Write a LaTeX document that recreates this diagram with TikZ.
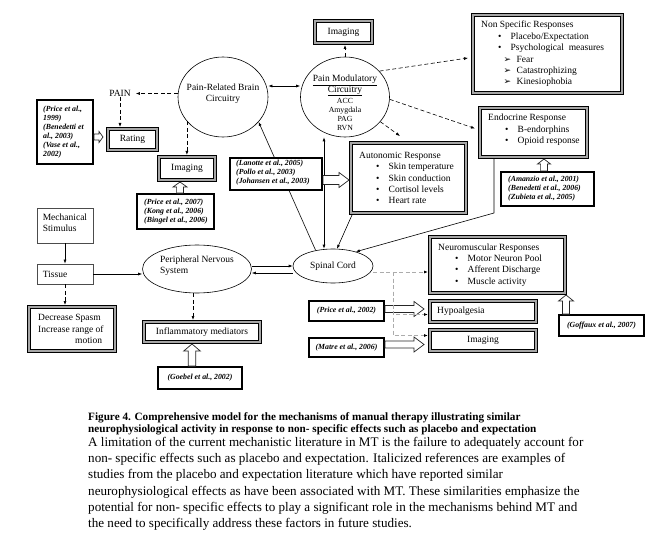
\documentclass[tikz,border=0pt]{standalone}
\usepackage{fontspec}
\setmainfont{Liberation Serif}
\newfontfamily\symfont{DejaVu Sans}
\usetikzlibrary{shapes.geometric,arrows.meta,calc,backgrounds}
\newcommand\bul[1]{\makebox[17pt][l]{}\makebox[12.5pt][l]{\textbullet}#1}
\newcommand\arrit[1]{\makebox[22.5pt][l]{}\makebox[13pt][l]{\symfont\fontsize{9}{9}\selectfont ➢}#1}
\newcommand\hollowarr[5]{%
  \coordinate (ha-s) at #1; \coordinate (ha-e) at #2;
  \coordinate (ha-h) at ($(ha-e)!#5!(ha-s)$);
  \draw[hollow] ($(ha-s)!#3!90:(ha-e)$) -- ($(ha-h)!#3!90:(ha-e)$) -- ($(ha-h)!#4!90:(ha-e)$) -- (ha-e) -- ($(ha-h)!#4!-90:(ha-e)$) -- ($(ha-h)!#3!-90:(ha-e)$) -- ($(ha-s)!#3!-90:(ha-e)$) -- cycle;}
\begin{document}
\begin{tikzpicture}[x=1pt,y=-1pt,
  every node/.style={font=\fontsize{9.5}{11.4}\selectfont, inner sep=0pt},
  triple/.style={draw=black, line width=1.1pt, double=gray!70, double distance=1.9pt, fill=white, outer sep=2pt},
  ref/.style={draw, line width=2.2pt, fill=white, font=\fontsize{7.8}{9.1}\selectfont\bfseries\itshape},
  reft/.style={anchor=west, align=left, font=\fontsize{7.8}{9.1}\selectfont\bfseries\itshape},
  plainbox/.style={draw=black!70, line width=0.8pt, fill=white},
  ell/.style={ellipse, draw, line width=0.6pt, fill=white},
  con/.style={line width=0.6pt, -{Latex[length=4pt,width=3pt]}},
  dcon/.style={con, dash pattern=on 4pt off 2.5pt},
  gcon/.style={draw=gray!65, line width=1pt, dash pattern=on 4pt off 2.5pt, -{Latex[length=4pt,width=3pt,color=black]}},
  hollow/.style={draw=black!85, line width=0.7pt, fill=white, line join=miter},
  captb/.style={anchor=base west, font=\fontsize{11.2}{12}\selectfont\bfseries},
  capt/.style={anchor=base west, font=\fontsize{13.1}{16}\selectfont}]
\begin{scope}[on background layer]
\fill[white] (0,0) rectangle (671,540);
\end{scope}
\useasboundingbox (0,0) rectangle (671,540);

% ellipses
\node[ell, minimum width=90pt, minimum height=80pt, align=center] (brain) at (223,97) {};
\node[align=center] (brain-t) at (223,93.5) {Pain-Related Brain\\Circuitry};
\node[ell, minimum width=89pt, minimum height=80pt] (modul) at (345,97) {};
\node[align=center] (modul-t) at (345,85.5) {\underline{Pain Modulatory}\\[-0.5pt]\underline{Circuitry}};
\node[align=center, font=\fontsize{7.8}{9}\selectfont] (modul-s) at (345,114.5) {ACC\\Amygdala\\PAG\\RVN};
\node[ell, minimum width=109pt, minimum height=48pt] (pns) at (197,269) {};
\node[align=left] (pns-t) at (197,265.5) {Peripheral Nervous\\System};
\node[ell, minimum width=80pt, minimum height=34pt] (spinal) at (333,266) {Spinal Cord};

\node (PAIN) at (120,93.5) {PAIN};

% triple boxes
\node[triple, minimum width=57pt, minimum height=22pt] (imgtop) at (343.5,32) {Imaging};
\node[triple, minimum width=149pt, minimum height=78pt] (nonspec) at (547.5,54) {};
\node[anchor=west, align=left] (nonspec-t) at ($(nonspec.west)+(10pt,0)$) {Non Specific Responses\\\bul{Placebo/Expectation}\\\bul{Psychological\ \ measures}\\\arrit{Fear}\\\arrit{Catastrophizing}\\\arrit{Kinesiophobia}};
\node[triple, minimum width=107pt, minimum height=49pt] (endo) at (533.5,132.5) {};
\node[anchor=west, align=left] (endo-t) at ($(endo.west)+(10pt,2.5pt)$) {Endocrine Response\\\bul{B-endorphins}\\\bul{Opioid response}};
\node[triple, minimum width=115pt, minimum height=70pt] (auto) at (408.5,178) {};
\node[anchor=west, align=left] (auto-t) at ($(auto.west)+(10pt,0)$) {Autonomic Response\\\bul{Skin temperature}\\\bul{Skin conduction}\\\bul{Cortisol levels}\\\bul{Heart rate}};
\node[triple, minimum width=49pt, minimum height=21pt] (rating) at (132.5,139.5) {Rating};
\node[triple, minimum width=56pt, minimum height=23pt] (imgleft) at (187,168.5) {Imaging};
\node[triple, minimum width=86pt, minimum height=44pt] (decrease) at (72,329) {};
\node[anchor=west, align=left] (decrease-t) at ($(decrease.west)+(11pt,0)$) {Decrease Spasm\\Increase range of\\\hspace*{37pt}motion};
\node[triple, minimum width=116pt, minimum height=20pt] (inflam) at (202,332) {Inflammatory mediators};
\node[triple, minimum width=135pt, minimum height=56pt] (neuro) at (497.5,265) {};
\node[anchor=west, align=left] (neuro-t) at ($(neuro.west)+(10pt,0)$) {Neuromuscular Responses\\\bul{Motor Neuron Pool}\\\bul{Afferent Discharge}\\\bul{Muscle activity}};
\node[triple, minimum width=106pt, minimum height=21pt] (hypo) at (483,311.5) {};
\node[anchor=west] (hypo-t) at ($(hypo.west)+(9pt,0)$) {Hypoalgesia};
\node[triple, minimum width=106pt, minimum height=21pt] (imglow) at (483,340.5) {Imaging};

% plain boxes
\node[plainbox, minimum width=56pt, minimum height=35pt] (mech) at (65,225.5) {};
\node[anchor=west, align=left] (mech-t) at ($(mech.west)+(6pt,3pt)$) {Mechanical\\Stimulus};
\node[plainbox, minimum width=56pt, minimum height=20pt] (tissue) at (65,274) {};
\node[anchor=west] (tissue-t) at ($(tissue.west)+(6pt,0)$) {Tissue};

% reference boxes
\node[ref, minimum width=55.8pt, minimum height=63.8pt] (leftref) at (65,132) {};
\node[reft] (leftref-t) at ($(leftref.west)+(7pt,0)$) {(Price et al.,\\1999)\\(Benedetti et\\al., 2003)\\(Vase et al.,\\2002)};
\node[ref, minimum width=76.8pt, minimum height=34.8pt] (price07) at (175.5,211.5) {};
\node[reft] (price07-t) at ($(price07.west)+(8pt,0)$) {(Price et al., 2007)\\(Kong et al., 2006)\\(Bingel et al., 2006)};
\node[ref, minimum width=92.8pt, minimum height=33.8pt] (amanzio) at (547.5,189) {};
\node[reft] (amanzio-t) at ($(amanzio.west)+(8pt,0)$) {(Amanzio et al., 2001)\\(Benedetti et al., 2006)\\(Zubieta et al., 2005)};
\node[ref, minimum width=83.8pt, minimum height=21.8pt] (goebel) at (200,378) {(Goebel et al., 2002)};
\node[ref, minimum width=74.8pt, minimum height=19.8pt] (price02) at (346.5,311) {(Price et al., 2002)};
\node[ref, minimum width=74.8pt, minimum height=18.8pt] (matre) at (346.5,347.5) {(Matre et al., 2006)};
\node[ref, minimum width=84.8pt, minimum height=20.8pt] (goffaux) at (601.5,325.5) {(Goffaux et al., 2007)};

% line passing behind the Lanotte box
\begin{scope}[on background layer]
\draw[con] (spinal.138) -- (brain.-35);
\end{scope}
\node[ref, minimum width=91.8pt, minimum height=31.8pt] (lanotte) at (276,174) {};
\node[reft] (lanotte-t) at ($(lanotte.west)+(7pt,1pt)$) {(Lanotte et al., 2005)\\(Pollo et al., 2003)\\(Johansen et al., 2003)};

% connectors
\draw[con, {Latex[length=4pt,width=3pt]}-{Latex[length=4pt,width=3pt]}] ([yshift=11pt]brain.east) -- ([yshift=11pt]modul.west);
\draw[dcon] (PAIN.east -| brain.west) -- ([xshift=5pt]PAIN.east);
\draw[dcon] (PAIN.south) -- (PAIN.south |- rating.north);
\draw[dcon] (brain.214) -- (brain.214 |- imgleft.north);
\draw[dcon] (modul.north) -- (modul.north |- imgtop.south);
\draw[dcon] (modul.37) -- ($(nonspec.west)+(-3pt,-4pt)$);
\draw[dcon] (modul.-3) -- ($(endo.west)+(-3pt,4pt)$);
\draw[dcon] (modul.-35) -- ($(auto.north west)+(51pt,5pt)$);
\draw[con, {Latex[length=4pt,width=3pt]}-{Latex[length=4pt,width=3pt]}] ([xshift=-9pt]spinal.north) -- ([xshift=-9pt]spinal.north |- modul.south);
\draw[con] ($(auto.south west)+(3pt,0)$) -- (spinal.77);
\draw[con] ($(endo.south west)+(16pt,0)$) -- ++(0,54) -- (spinal.32);
\draw[con] ([yshift=3pt]pns.east) -- ([yshift=3pt]pns.east -| spinal.west);
\draw[con] ([yshift=-4pt]pns.east -| spinal.west) -- ([yshift=-4pt]pns.east);
\draw[con] (mech.south) -- (tissue.north);
\draw[con] (tissue.east) -- (tissue.east -| pns.west);
\draw[dcon] (tissue.south) -- (decrease.north -| tissue.south);
\draw[dcon] ([xshift=-4pt]pns.south) -- ([xshift=-4pt]pns.south |- inflam.north);

% hollow arrows
\coordinate (h1) at ($(rating.west)+(-3pt,2.5pt)$);
\hollowarr{(h1 -| leftref.east)}{(h1)}{3pt}{5.5pt}{4pt}
\coordinate (h2) at ($(imgleft.south)+(-7pt,0)$);
\hollowarr{(h2 |- price07.north)}{(h2)}{3.4pt}{7pt}{5pt}
\coordinate (h3) at ($(lanotte.east)+(0,-6pt)$);
\hollowarr{(h3)}{(h3 -| auto.west)}{4.5pt}{7.5pt}{10pt}
\coordinate (h4) at ($(endo.south)+(10.5pt,0)$);
\hollowarr{(h4 |- amanzio.north)}{(h4)}{3.4pt}{6.5pt}{5pt}
\coordinate (h5) at ($(inflam.south)+(-10pt,0)$);
\hollowarr{(h5 |- goebel.north)}{(h5)}{3.7pt}{8.3pt}{7pt}
\coordinate (h6) at ($(price02.east)+(0,2pt)$);
\coordinate (h6e) at ($(h6 -| hypo.west)+(-4pt,0)$);
\hollowarr{(h6)}{(h6e)}{3.5pt}{7.5pt}{10pt}
\coordinate (h7) at ($(matre.east)+(0,3pt)$);
\coordinate (h7e) at ($(h7 -| imglow.west)+(-4pt,0)$);
\hollowarr{(h7)}{(h7e)}{3.5pt}{7.5pt}{10pt}
\coordinate (h8) at ($(neuro.south east)+(-1pt,0)$);
\hollowarr{(h8 |- goffaux.north)}{(h8)}{3.5pt}{7.5pt}{6pt}

% grey dashed branches from spinal cord
\coordinate (sc) at ($(spinal.east)+(0,-6pt)$);
\coordinate (br) at ($(sc)+(20pt,0)$);
\draw[gcon] (sc) -- (sc -| neuro.west);
\draw[gcon] (br) |- ($(hypo.west)+(0,-3pt)$);
\draw[gcon] (br) |- ($(imglow.west)+(0,5pt)$);

% caption
\node[captb] (cap1) at (88,420.5) {Figure 4. Comprehensive model for the mechanisms of manual therapy illustrating similar};
\node[captb] (cap2) at (88,432) {neurophysiological activity in response to non- specific effects such as placebo and expectation};
\node[capt] (cap3) at (88,446.5) {A limitation of the current mechanistic literature in MT is the failure to adequately account for};
\node[capt] (cap4) at (88,462.7) {non- specific effects such as placebo and expectation. Italicized references are examples of};
\node[capt] (cap5) at (88,478.9) {studies from the placebo and expectation literature which have reported similar};
\node[capt] (cap6) at (88,495.1) {neurophysiological effects as have been associated with MT. These similarities emphasize the};
\node[capt] (cap7) at (88,511.3) {potential for non- specific effects to play a significant role in the mechanisms behind MT and};
\node[capt] (cap8) at (88,527.5) {the need to specifically address these factors in future studies.};
\end{tikzpicture}
\end{document}
